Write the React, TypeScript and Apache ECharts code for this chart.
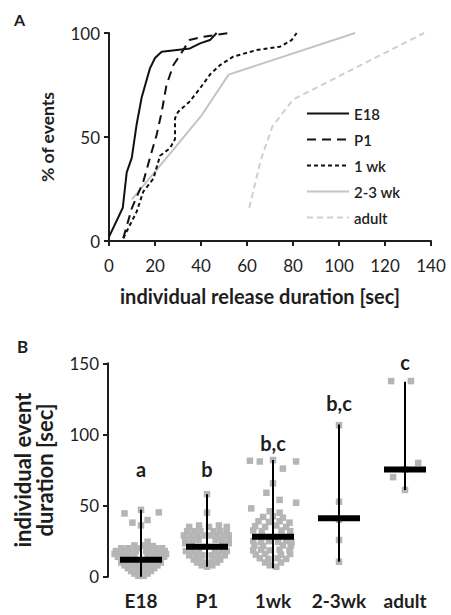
import React, { useEffect, useRef } from 'react';
import * as echarts from 'echarts';

const FONT = 'Lato, "Open Sans", sans-serif';
const INK = '#1e1e1e';

// ---------- Panel A: cumulative distributions [duration sec, % of events]
const e18Cdf = [[0, 2], [6, 16], [7.7, 33], [9.9, 40], [12, 56], [14.2, 69], [17.8, 83], [20, 88], [22.9, 91], [35.2, 92.6], [39.6, 95], [43.9, 96.6], [46.8, 100]];
const p1Cdf = [[6.2, 1.3], [9.9, 15.7], [14.9, 28.5], [17.8, 40], [20.7, 51], [22.9, 62], [25, 75], [28, 84.6], [30.9, 89.4], [35, 96.6], [40, 98], [46, 99], [52, 100]];
const wk1Cdf = [[6.2, 1.3], [9.1, 7.7], [12, 14], [14.9, 23.7], [19.3, 30], [22.2, 41], [26.5, 44.6], [28.7, 49], [28.7, 59], [30, 62], [35, 67], [39.6, 73.4], [43.9, 80], [48.3, 84.6], [54, 88.6], [64.2, 91.8], [74.3, 93.4], [79.4, 96.6], [81.6, 100]];
const wk23Cdf = [[10, 20], [25, 40], [40, 60], [52, 80], [107, 100]];
const adultCdf = [[61, 16], [66, 39], [71, 55], [80, 68], [137, 100]];
const seriesNamesA = ['E18', 'P1', '1 wk', '2-3 wk', 'adult'];

// ---------- Panel B: individual events [offset within group, duration sec]
const categoriesB = ['E18', 'P1', '1wk', '2-3wk', 'adult'];
const e18Points = [
  [0, 47], [-0.25, 44.5], [0.27, 45.2], [-0.13, 38], [0.1, 39.8], [0, 36], [0.1, 24.6],
  [-0.1, 22], [0.05, 22], [0.18, 21.5],
  [-0.3, 20], [-0.2, 20], [-0.05, 20], [0.1, 20], [0.22, 20], [0.32, 20],
  [-0.38, 18], [-0.28, 18], [-0.18, 18], [-0.08, 18], [0.08, 18], [0.18, 18], [0.28, 18], [0.36, 18],
  [-0.4, 16], [-0.3, 16], [-0.2, 16], [-0.1, 16], [0.1, 16], [0.2, 16], [0.3, 16], [0.38, 16],
  [-0.35, 14], [-0.25, 14], [0.25, 14], [0.35, 14],
  [-0.3, 10], [-0.2, 10], [-0.1, 10], [0.1, 10], [0.2, 10], [0.3, 10],
  [-0.25, 8], [-0.15, 8], [-0.05, 8], [0.05, 8], [0.15, 8], [0.25, 8],
  [-0.2, 6], [-0.1, 6], [0.1, 6], [0.2, 6],
  [-0.15, 4], [-0.05, 4], [0.05, 4], [0.15, 4],
  [-0.1, 2.2], [0, 2.2], [0.1, 2.2],
  [-0.04, 0.6], [0.04, 0.6],
];
const p1Points = [
  [0, 58], [0, 45],
  [-0.27, 35], [-0.12, 36], [0.03, 35], [0.18, 36], [0.3, 35],
  [-0.3, 32], [-0.2, 32], [-0.1, 32], [0.1, 32], [0.2, 32], [0.3, 32],
  [-0.35, 29], [-0.25, 29], [-0.15, 29], [-0.05, 29], [0.05, 29], [0.15, 29], [0.25, 29], [0.33, 29],
  [-0.33, 26], [-0.23, 26], [-0.13, 26], [0.13, 26], [0.23, 26], [0.33, 26],
  [-0.33, 23.5], [-0.23, 23.5], [0.23, 23.5], [0.33, 23.5],
  [-0.32, 18], [-0.22, 18], [-0.12, 18], [0.12, 18], [0.22, 18], [0.3, 18],
  [-0.27, 15], [-0.17, 15], [-0.07, 15], [0.07, 15], [0.17, 15], [0.27, 15],
  [-0.2, 12], [-0.1, 12], [0.1, 12], [0.2, 12],
  [-0.15, 10], [-0.05, 10], [0.05, 10], [0.15, 10],
  [-0.08, 8], [0.08, 8], [0, 7],
];
const wk1Points = [
  [0, 82], [-0.35, 81.5], [-0.2, 81], [0.35, 81], [0.15, 76], [0, 65.6], [-0.1, 59], [0.1, 54], [0.35, 52], [-0.33, 48],
  [-0.05, 46], [0.1, 45],
  [-0.15, 42], [0, 42.5], [0.15, 41.5],
  [-0.22, 39], [-0.06, 38.5], [0.1, 39], [0.25, 38],
  [-0.27, 35.5], [-0.12, 35], [0.05, 36], [0.2, 35],
  [-0.3, 32.5], [-0.17, 32], [0.13, 32.5], [0.26, 32],
  [-0.3, 25], [-0.18, 24.5], [-0.06, 25], [0.08, 24.5], [0.2, 25], [0.28, 24],
  [-0.28, 22], [-0.15, 21.5], [0.15, 22], [0.27, 21.5],
  [-0.3, 18.5], [-0.18, 19], [-0.05, 18.5], [0.1, 19], [0.25, 18.5],
  [-0.26, 15.5], [-0.12, 16], [0.12, 15.5], [0.26, 16],
  [-0.2, 13], [-0.07, 12.5], [0.07, 13], [0.2, 12.5],
  [-0.12, 10], [0.12, 10], [-0.05, 8], [0.05, 7],
];
const wk23Points = [[0, 10.5], [0, 25.8], [0, 40], [0, 52.7], [0, 106.5]];
const adultPoints = [[-0.21, 137.5], [0.09, 137.5], [0.2, 80], [0, 75.4], [-0.18, 70], [0, 61]];
const pointGroups = [e18Points, p1Points, wk1Points, wk23Points, adultPoints];

const mediansB = [12, 21, 28, 41, 75.4];
const minsB = [0, 7, 6, 10.5, 61];
const maxsB = [47, 58, 82, 107, 137];
const lettersB = ['a', 'b', 'b,c', 'b,c', 'c'];
const letterLevelsB = [76, 76, 94, 122, 151];

const axisLine = { show: true, onZero: false, lineStyle: { color: INK, width: 2 } };
const axisTick = { show: true, length: 5, lineStyle: { color: INK, width: 2 } };
const tickLabel = { color: INK, fontFamily: FONT, fontSize: 17 };

function buildOption(): any {
  const cdfs = [e18Cdf, p1Cdf, wk1Cdf, wk23Cdf, adultCdf];
  const lineStyles = [
    { color: '#111', width: 2, type: 'solid' },
    { color: '#111', width: 2, type: [9, 6] },
    { color: '#111', width: 2, type: [4, 3] },
    { color: '#c4c4c4', width: 2, type: 'solid' },
    { color: '#cfcfcf', width: 2, type: [6, 4] },
  ];
  const lineSeries = cdfs.map((d, i) => ({
    name: seriesNamesA[i],
    type: 'line',
    xAxisIndex: 0,
    yAxisIndex: 0,
    data: d,
    symbol: 'none',
    showSymbol: false,
    lineStyle: lineStyles[i],
    itemStyle: { color: lineStyles[i].color },
    z: 5 - i,
  }));

  const scatterData: number[][] = [];
  pointGroups.forEach((g, gi) => g.forEach(([o, v]) => scatterData.push([gi + o, v])));

  return {
    animation: false,
    backgroundColor: '#fff',
    textStyle: { fontFamily: FONT },
    grid: [
      { left: 109, top: 33, width: 322, height: 208 },
      { left: 108, top: 363.3, width: 330, height: 213.4 },
    ],
    legend: {
      data: seriesNamesA,
      orient: 'vertical',
      left: 301,
      top: 101,
      itemWidth: 42,
      itemHeight: 14,
      itemGap: 11,
      itemStyle: { opacity: 0 },
      textStyle: { color: INK, fontFamily: FONT, fontSize: 15, fontWeight: 600 },
    },
    xAxis: [
      {
        type: 'value', gridIndex: 0, min: 0, max: 140, interval: 20,
        axisLine, axisTick, axisLabel: { ...tickLabel, margin: 16 }, splitLine: { show: false },
        name: 'individual release duration [sec]', nameLocation: 'middle', nameGap: 45,
        nameTextStyle: { color: INK, fontFamily: FONT, fontSize: 20, fontWeight: 'bold', padding: [0, 20, 0, 0] },
      },
      {
        type: 'category', gridIndex: 1, data: categoriesB, boundaryGap: true,
        axisLine: { show: false }, axisTick: { show: false }, splitLine: { show: false },
        axisLabel: { color: INK, fontFamily: FONT, fontSize: 19, fontWeight: 'bold', margin: 14, interval: 0 },
      },
      {
        type: 'value', gridIndex: 1, min: -0.5, max: 4.5, show: false, splitLine: { show: false },
        axisLine: { show: false, onZero: false },
      },
    ],
    yAxis: [
      {
        type: 'value', gridIndex: 0, min: 0, max: 100, interval: 50,
        axisLine, axisTick, axisLabel: { ...tickLabel, margin: 9 }, splitLine: { show: false },
        name: '% of events', nameLocation: 'middle', nameGap: 53, nameRotate: 90,
        nameTextStyle: { color: INK, fontFamily: FONT, fontSize: 17.5, fontWeight: 'bold' },
      },
      {
        type: 'value', gridIndex: 1, min: 0, max: 150, interval: 50,
        axisLine, axisTick, axisLabel: { ...tickLabel, margin: 9 }, splitLine: { show: false },
        name: 'individual event\nduration [sec]', nameLocation: 'middle', nameGap: 53, nameRotate: 90,
        nameTextStyle: { color: INK, fontFamily: FONT, fontSize: 22, fontWeight: 'bold', lineHeight: 22 },
      },
    ],
    graphic: [
      { type: 'text', left: 14, top: 11, style: { text: 'A', font: `bold 16px ${FONT}`, fill: INK } },
      { type: 'text', left: 17, top: 338, style: { text: 'B', font: `bold 17px ${FONT}`, fill: INK } },
    ],
    series: [
      ...lineSeries,
      {
        type: 'scatter', xAxisIndex: 2, yAxisIndex: 1, data: scatterData,
        symbol: 'rect', symbolSize: 6.5, itemStyle: { color: '#b5b5b5', opacity: 1 }, silent: true, z: 2,
      },
      {
        type: 'custom', xAxisIndex: 2, yAxisIndex: 1, silent: true, z: 3,
        data: categoriesB.map((_, i) => [i, maxsB[i]]),
        renderItem: (params: any, api: any) => {
          const i = params.dataIndex;
          const a = api.coord([i, minsB[i]]);
          const b = api.coord([i, maxsB[i]]);
          return { type: 'line', shape: { x1: a[0], y1: a[1], x2: b[0], y2: b[1] }, style: { stroke: '#000', lineWidth: 2 } };
        },
      },
      {
        type: 'scatter', xAxisIndex: 2, yAxisIndex: 1, silent: true, z: 4,
        data: mediansB.map((m, i) => [i, m]),
        symbol: 'rect', symbolSize: [42, 6], itemStyle: { color: '#000', opacity: 1 },
      },
      {
        type: 'scatter', xAxisIndex: 2, yAxisIndex: 1, silent: true, z: 4, clip: false,
        data: lettersB.map((t, i) => ({ value: [i, letterLevelsB[i]], name: t })),
        symbolSize: 0.1, itemStyle: { color: INK, opacity: 1 },
        label: {
          show: true, position: 'inside', formatter: '{b}', color: INK, fontFamily: FONT,
          fontSize: 20, fontWeight: 'bold', textBorderWidth: 0, opacity: 1,
        },
      },
    ],
  };
}

export default function App() {
  const ref = useRef<HTMLDivElement>(null);
  useEffect(() => {
    const chart = echarts.init(ref.current!, null, { renderer: 'svg' });
    chart.setOption(buildOption());
    return () => chart.dispose();
  }, []);
  return (
    <div
      ref={ref}
      style={{ position: 'absolute', left: 0, top: 0, width: 451, height: 615, background: '#fff' }}
    />
  );
}
